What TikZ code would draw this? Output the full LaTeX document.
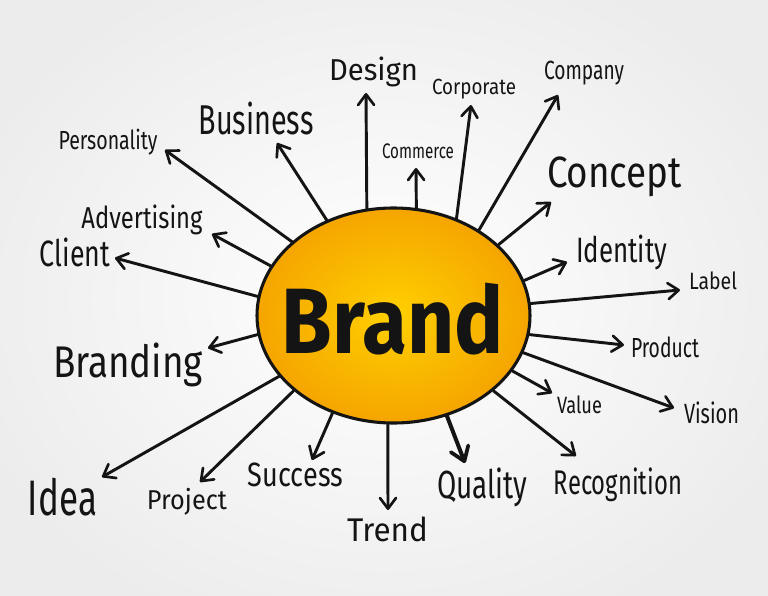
\documentclass[tikz,border=0pt]{standalone}
\usepackage{fontspec}
\setmainfont{Fira Sans}
\usetikzlibrary{arrows.meta,shapes.geometric}
\newlength\pxu \setlength\pxu{0.75pt}
\newcommand\word[3]{\resizebox*{#1\pxu}{#2\pxu}{#3}}
\definecolor{bgedge}{RGB}{236,236,236}
\definecolor{sunmid}{RGB}{255,208,0}
\definecolor{sunedge}{RGB}{245,165,0}
\definecolor{ink}{RGB}{20,20,20}
\begin{document}
\begin{tikzpicture}[x=0.75pt,y=-0.75pt,
  lbl/.style={inner sep=0pt, text=ink},
  ray/.style={line width=2.2pt, draw=ink, line cap=round,
    -{Straight Barb[length=8pt,width=12pt,line width=2pt,round]}},
  bigray/.style={ray, line width=3pt,
    -{Straight Barb[length=10pt,width=14pt,line width=2.8pt,round]}},
  sun/.style={ellipse, draw=ink, line width=2.3pt, inner sep=0pt,
    minimum width={273\pxu}, minimum height={215\pxu},
    inner color=sunmid, outer color=sunedge}]
\useasboundingbox (0,0) rectangle (768,596);
% background
\begin{scope}
\clip (0,0) rectangle (768,596);
\fill[inner color=white, outer color=bgedge] (-60,-60) rectangle (828,656);
\end{scope}

% centre
\node[sun] (brand) at (393.5,315.5) {};
\node[lbl] (brandtxt) at (393,319) {\word{222}{72}{\bfseries Brand}};

% labels
\node[lbl] (design)      at (373.5,72)   {\word{89}{30}{Design}};
\node[lbl] (business)    at (256,118.5)  {\word{115}{33}{Business}};
\node[lbl] (personality) at (108,142)    {\word{99}{26}{Personality}};
\node[lbl] (advertising) at (142,220)    {\word{121}{30}{Advertising}};
\node[lbl] (client)      at (75,252.5)   {\word{70}{29}{Client}};
\node[lbl] (corporate)   at (474,89)     {\word{84}{20}{Corporate}};
\node[lbl] (commerce)    at (418,151.5)  {\word{72}{15}{Commerce}};
\node[lbl] (company)     at (584,73)     {\word{80}{24}{Company}};
\node[lbl] (concept)     at (614.5,177)  {\word{135}{40}{Concept}};
\node[lbl] (identity)    at (621.5,252.5){\word{91}{35}{Identity}};
\node[lbl] (label)       at (713,281)    {\word{48}{18}{Label}};
\node[lbl] (branding)    at (128,365)    {\word{150}{44}{Branding}};
\node[lbl] (idea)        at (62.5,497)   {\word{69}{38}{Idea}};
\node[lbl] (project)     at (187,501.5)  {\word{80}{27}{Project}};
\node[lbl] (success)     at (295.5,475)  {\word{95}{24}{Success}};
\node[lbl] (trend)       at (387.5,529.5){\word{81}{25}{Trend}};
\node[lbl] (product)     at (665,347.5)  {\word{68}{21}{Product}};
\node[lbl] (value)       at (579.5,405)  {\word{45}{18}{Value}};
\node[lbl] (vision)      at (711.5,413)  {\word{55}{22}{Vision}};
\node[lbl] (recognition) at (618,485)    {\word{128}{34}{Recognition}};
\node[lbl] (quality)     at (482,487.5)  {\word{90}{39}{Quality}};

% arrow tips
\coordinate (t-design)      at (366,93);
\coordinate (t-business)    at (277,143);
\coordinate (t-personality) at (165,150);
\coordinate (t-advertising) at (212,234);
\coordinate (t-client)      at (115,258);
\coordinate (t-branding)    at (208,348);
\coordinate (t-idea)        at (102,477);
\coordinate (t-project)     at (200,482);
\coordinate (t-success)     at (312,460);
\coordinate (t-trend)       at (388,510);
\coordinate (t-quality)     at (465,463);
\coordinate (t-recognition) at (576,456);
\coordinate (t-value)       at (552,393);
\coordinate (t-vision)      at (674,408);
\coordinate (t-product)     at (624,345);
\coordinate (t-label)       at (680,290);
\coordinate (t-identity)    at (567,262);
\coordinate (t-concept)     at (551,202);
\coordinate (t-company)     at (558,95);
\coordinate (t-corporate)   at (471,105);
\coordinate (t-commerce)    at (416,168);

% rays
\draw[ray] (brand.104.4) -- (t-design);
\draw[ray] (brand.125.7) -- (t-business);
\draw[ray] (brand.144.6) -- (t-personality);
\draw[ray] (brand.158)   -- (t-advertising);
\draw[ray] (brand.172.8) -- (t-client);
\draw[ray] (brand.188)   -- (t-branding);
\draw[ray] (brand.208.5) -- (t-idea);
\draw[ray] (brand.217.2) -- (t-project);
\draw[ray] (brand.238)   -- (t-success);
\draw[ray] (brand.267)   -- (t-trend);
\draw[bigray] (brand.298.3) -- (t-quality);
\draw[ray] (brand.323.5) -- (t-recognition);
\draw[ray] (brand.335)   -- (t-value);
\draw[ray] (brand.344.3) -- (t-vision);
\draw[ray] (brand.352.8) -- (t-product);
\draw[ray] (brand.5)     -- (t-label);
\draw[ray] (brand.15.8)  -- (t-identity);
\draw[ray] (brand.34.6)  -- (t-concept);
\draw[ray] (brand.45.6)  -- (t-company);
\draw[ray] (brand.57.7)  -- (t-corporate);
\draw[ray] (brand.78.1)  -- (t-commerce);
\end{tikzpicture}
\end{document}
